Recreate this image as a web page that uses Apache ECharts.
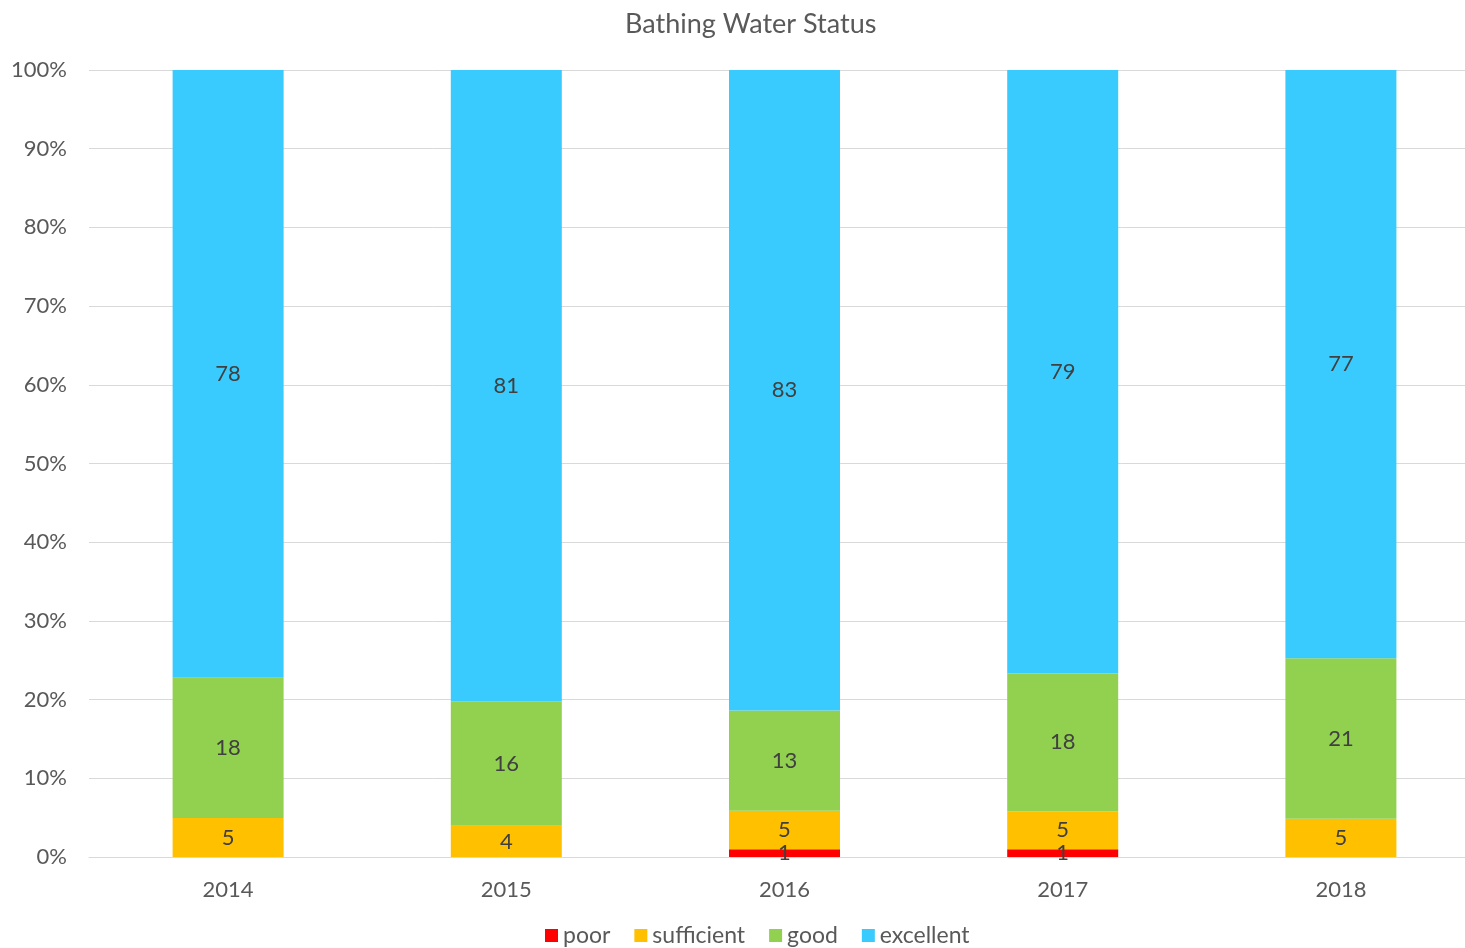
<!DOCTYPE html>
<html><head><meta charset="utf-8">
<script src="https://cdn.jsdelivr.net/npm/echarts@6/dist/echarts.min.js"></script>
<style>html,body{margin:0;padding:0;background:#fff}#c{width:1465px;height:948px}</style>
</head><body><div id="c"></div>
<script>
const years = ['2014','2015','2016','2017','2018'];
const poor = [0, 0, 1, 1, 0];
const sufficient = [5, 4, 5, 5, 5];
const good = [18, 16, 13, 18, 21];
const excellent = [78, 81, 83, 79, 77];
const yTicks = [0,10,20,30,40,50,60,70,80,90,100];

const totals = years.map((_, i) => poor[i] + sufficient[i] + good[i] + excellent[i]);
const pct = arr => arr.map((v, i) => ({value: v / totals[i] * 100, raw: v}));

const FONT = 'Lato, "Open Sans", sans-serif';
const mk = (name, arr, color) => ({
  name, type: 'bar', stack: 'all', data: pct(arr), barWidth: 111,
  itemStyle: {color},
  label: {show: true, position: 'inside', color: '#404040', fontSize: 22, fontFamily: FONT,
    formatter: p => p.data.raw === 0 ? '' : String(p.data.raw)}
});

const chart = echarts.init(document.getElementById('c'));
chart.setOption({
  animation: false,
  title: {text: 'Bathing Water Status', left: 620, top: 6,
    textStyle: {fontFamily: FONT, fontSize: 27, fontWeight: 'normal', color: '#595959'}},
  legend: {bottom: -4, left: 540, itemWidth: 13, itemHeight: 13, itemGap: 24, icon: 'rect',
    textStyle: {fontFamily: FONT, fontSize: 23, color: '#595959'}},
  grid: {left: 89, top: 70, width: 1391, bottom: 91, outerBoundsMode: 'none', containLabel: false},
  xAxis: {type: 'category', data: years,
    axisLine: {lineStyle: {color: '#d9d9d9'}}, axisTick: {show: false},
    axisLabel: {fontFamily: FONT, fontSize: 22, color: '#595959', margin: 22}},
  yAxis: {type: 'value', min: 0, max: 100, interval: 10,
    axisLabel: {fontFamily: FONT, fontSize: 22, color: '#595959', margin: 22,
      formatter: v => yTicks.includes(v) ? v + '%' : ''},
    splitLine: {lineStyle: {color: '#d9d9d9'}}, axisLine: {show: false}, axisTick: {show: false}},
  series: [
    mk('poor', poor, '#FF0000'),
    mk('sufficient', sufficient, '#FFC000'),
    mk('good', good, '#92D050'),
    mk('excellent', excellent, '#3ACBFE')
  ]
});
</script></body></html>
